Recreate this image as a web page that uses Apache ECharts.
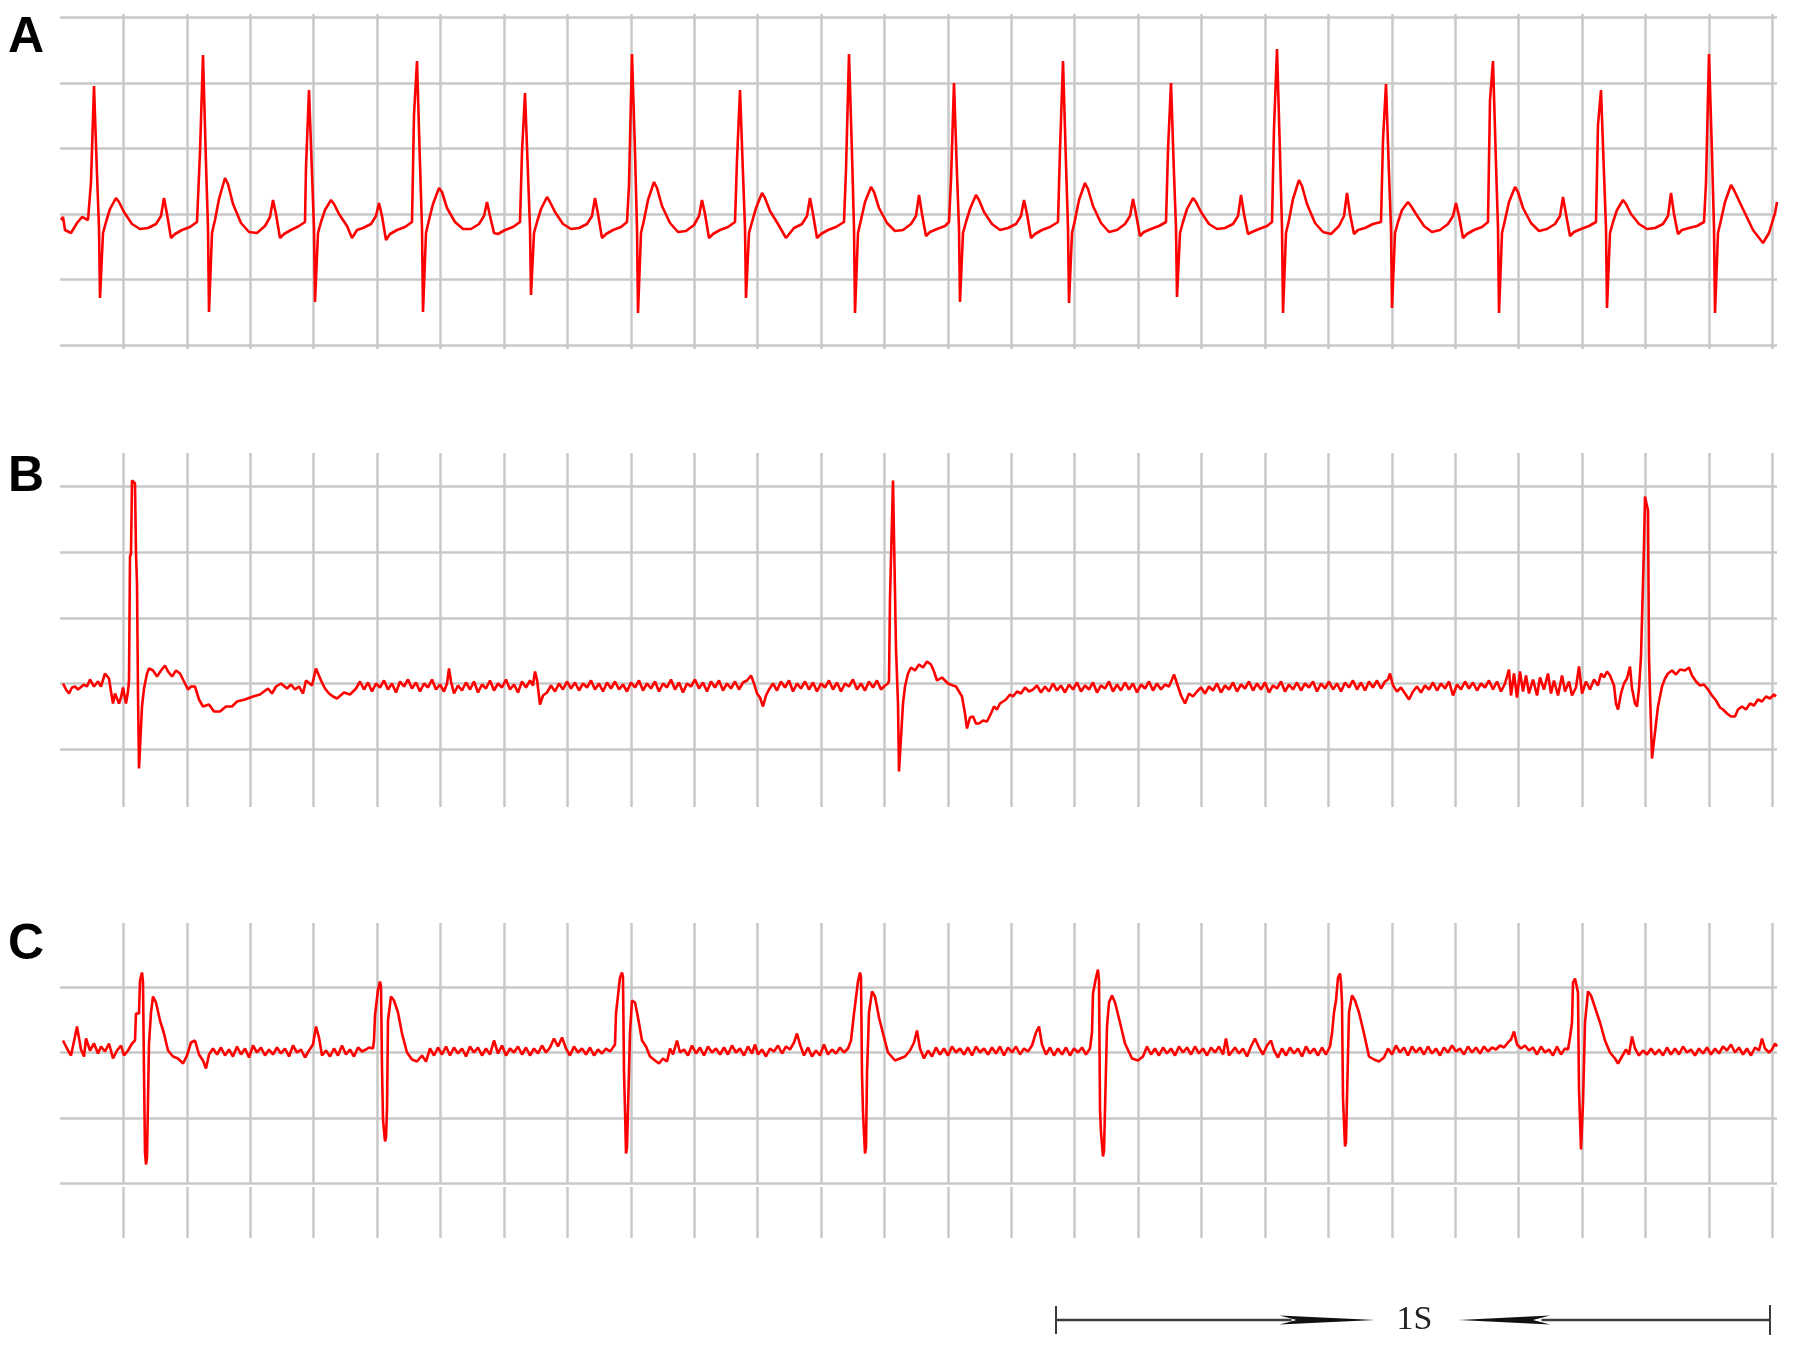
<!DOCTYPE html>
<html>
<head>
<meta charset="utf-8">
<title>ECG strips A / B / C</title>
<script src="https://cdn.jsdelivr.net/npm/echarts@6/dist/echarts.min.js"></script>
<style>
  html, body { margin: 0; padding: 0; background: #fff; }
  #chart { width: 1795px; height: 1356px; }
</style>
</head>
<body>
<div id="chart"></div>
<script>
// x = sample index along the strip, y = amplitude (counts, baseline = 0)
// values

const traceA = [
  [1,-6],[3,-3],[5,-16],[11,-19],[17,-9],[22,-3],[28,-6],
  [30,-6],[31,32],[33,32],[34,128],[36,128],[37,40],[39,-14],[40,-84],[42,-84],[43,-19],[46,-8],[50,5],[56,16],[59,12],[64,2],[72,-10],[80,-15],[88,-14],[96,-10],[101,-2],[104,16],[107,0],[111,-24],[115,-20],[122,-16],[130,-13],[137,-8],
  [139,-7],[140,62],[142,62],[143,159],[145,159],[146,50],[148,-14],[149,-98],[151,-98],[152,-19],[155,-6],[159,15],[165,36],[168,30],[173,10],[181,-9],[189,-18],[197,-19],[205,-12],[210,-3],[213,14],[216,0],[220,-24],[224,-20],[231,-16],[239,-12],[245,-8],
  [246,47],[248,47],[249,124],[251,124],[252,40],[254,-14],[255,-88],[257,-88],[258,-19],[261,-8],[265,4],[271,14],[274,10],[279,0],[287,-12],[292,-24],[297,-16],[303,-14],[311,-10],[316,-2],[319,11],[322,-2],[326,-26],[330,-20],[337,-16],[345,-13],[352,-8],
  [353,-8],[354,99],[356,99],[357,153],[359,153],[360,50],[362,-14],[363,-98],[365,-98],[366,-19],[369,-6],[373,10],[379,26],[382,22],[387,6],[395,-8],[403,-15],[411,-15],[419,-10],[424,-2],[427,12],[430,-2],[434,-19],[438,-20],[445,-16],[453,-13],[460,-8],
  [461,-8],[462,62],[464,62],[465,121],[467,121],[468,40],[470,-14],[471,-81],[473,-81],[474,-19],[477,-8],[481,5],[487,17],[490,12],[495,2],[503,-10],[511,-15],[519,-14],[527,-10],[532,-2],[535,16],[538,0],[542,-24],[546,-20],[553,-16],[561,-13],[567,-8],
  [568,-8],[569,29],[571,29],[572,160],[574,160],[575,62],[577,-14],[578,-99],[580,-99],[581,-19],[584,-6],[588,14],[594,32],[597,26],[602,8],[610,-9],[618,-18],[626,-17],[634,-11],[639,-2],[642,14],[645,0],[649,-24],[653,-20],[660,-16],[668,-13],[675,-8],
  [676,-8],[677,54],[679,54],[680,124],[682,124],[683,40],[685,-14],[686,-84],[688,-84],[689,-19],[692,-8],[696,6],[702,21],[705,16],[710,3],[718,-10],[726,-24],[734,-14],[742,-10],[747,-2],[750,16],[753,0],[757,-24],[761,-20],[768,-16],[776,-13],[784,-8],
  [785,-8],[786,44],[788,44],[789,160],[791,160],[792,60],[794,-14],[795,-99],[797,-99],[798,-19],[801,-6],[805,12],[811,27],[814,22],[819,6],[827,-9],[835,-17],[843,-16],[851,-10],[856,-2],[859,19],[862,0],[866,-22],[870,-18],[877,-15],[885,-12],[889,-8],
  [890,-8],[891,34],[893,34],[894,131],[896,131],[897,40],[899,-14],[900,-88],[902,-88],[903,-19],[906,-8],[910,5],[916,19],[919,14],[924,2],[932,-10],[940,-16],[948,-14],[956,-10],[961,-2],[964,14],[967,0],[971,-24],[975,-20],[982,-16],[990,-13],[998,-8],
  [999,-8],[1000,64],[1002,64],[1003,153],[1005,153],[1006,50],[1008,-14],[1009,-89],[1011,-89],[1012,-19],[1015,-6],[1019,14],[1025,31],[1028,25],[1033,8],[1041,-9],[1049,-18],[1057,-16],[1065,-10],[1070,-2],[1073,15],[1076,0],[1080,-22],[1084,-18],[1091,-15],[1099,-12],[1106,-8],
  [1107,-8],[1108,64],[1110,64],[1111,131],[1113,131],[1114,40],[1116,-14],[1117,-83],[1119,-83],[1120,-19],[1123,-8],[1127,5],[1133,16],[1136,12],[1141,2],[1149,-10],[1157,-15],[1165,-14],[1173,-10],[1178,-2],[1181,19],[1184,0],[1188,-20],[1192,-18],[1199,-15],[1207,-12],[1212,-8],
  [1213,-8],[1214,86],[1216,86],[1217,165],[1219,165],[1220,60],[1222,-14],[1223,-99],[1225,-99],[1226,-19],[1229,-6],[1233,15],[1239,34],[1242,28],[1247,10],[1255,-9],[1263,-18],[1271,-20],[1279,-12],[1284,-2],[1287,21],[1290,0],[1294,-20],[1298,-16],[1305,-14],[1313,-10],[1321,-8],
  [1322,-8],[1323,74],[1325,74],[1326,130],[1328,130],[1329,40],[1331,-14],[1332,-94],[1334,-94],[1335,-19],[1338,-8],[1342,4],[1348,12],[1351,8],[1356,0],[1364,-12],[1372,-18],[1380,-16],[1388,-10],[1393,-2],[1396,11],[1399,-2],[1403,-24],[1407,-20],[1414,-16],[1422,-13],[1428,-8],
  [1429,-8],[1430,114],[1432,114],[1433,153],[1435,153],[1436,50],[1438,-14],[1439,-99],[1441,-99],[1442,-19],[1445,-6],[1449,12],[1455,27],[1458,22],[1463,6],[1471,-9],[1479,-17],[1487,-15],[1495,-10],[1500,-2],[1503,17],[1506,0],[1510,-22],[1514,-18],[1521,-15],[1529,-12],[1536,-8],
  [1537,-8],[1538,89],[1540,89],[1541,124],[1543,124],[1544,40],[1546,-14],[1547,-94],[1549,-94],[1550,-19],[1553,-8],[1557,4],[1563,14],[1566,10],[1571,0],[1579,-10],[1587,-15],[1595,-14],[1603,-10],[1608,-2],[1611,21],[1614,0],[1618,-20],[1622,-16],[1629,-14],[1637,-12],[1644,-8],
  [1645,-8],[1646,31],[1648,31],[1649,160],[1651,160],[1652,60],[1654,-14],[1655,-99],[1657,-99],[1658,-19],[1661,-6],[1665,12],[1671,29],[1674,24],[1682,7],[1693,-16],[1703,-29],[1709,-19],[1715,1],[1717,12]
];

const traceB = [
  [3,0],[6,-6],[9,-10],[12,-4],[15,-3],[18,-6],[20,-5],[24,-1],[27,-3],[30,4],[34,-3],[38,2],[41,-3],[45,10],[49,5],[51,-8],[53,-20],[55,-10],[57,-10],[59,-20],[61,-14],[63,-4],[64,-5],[66,-20],[68,-8],
  [69,3],[70,127],[71,130],[72,203],[75,200],[76,130],[77,100],[78,-10],[79,-85],[81,-85],[82,-23],
  [84,-5],[85,0],[87,10],[89,15],[91,15],[93,13],[97,7],[101,13],[105,18],[108,12],[112,7],[116,13],[120,10],[124,2],[128,-6],[131,-3],[135,-3],[139,-16],[143,-23],[149,-21],[154,-28],[160,-28],[166,-23],[172,-23],[177,-18],[185,-16],[193,-13],[200,-11],[208,-5],[212,-10],[216,-3],[221,0],[227,-5],[231,-1],[235,-6],[239,-3],[243,-10],[246,3],[252,-2],[256,15],[258,13],[261,3],[265,-5],[269,-10],[273,-13],[277,-15],[284,-9],[290,-11],[296,-5],
  [300,2],[304,-6],[308,1],[312,-8],[316,0],[320,-4],[324,3],[328,-6],[332,0],[336,-9],[340,2],[344,-3],[348,4],[352,-5],[356,1],[360,-8],[364,0],[368,-4],[372,4],[376,-6],[380,-1],[384,-8],[387,0],[389,15],[391,2],[394,-10],[398,-2],[402,-7],[406,1],[410,-6],[414,2],[418,-9],[422,-1],[426,-5],[430,3],[434,-7],[438,0],[442,-4],[446,4],[450,-6],[454,-1],[458,-9],[462,2],[466,-4],[470,3],[473,-2],[475,12],[477,4],[480,-21],[483,-12],[487,-9],[491,-2],[495,-8],[499,0],
  [503,-6],[507,2],[511,-5],[515,1],[519,-7],[523,0],[527,-4],[531,3],[535,-6],[539,0],[543,-8],[547,1],[551,-5],[555,2],[559,-6],[563,-1],[567,-8],[571,1],[575,-4],[579,3],[583,-7],[587,0],[591,-5],[595,2],[599,-8],[603,0],[607,-4],[611,4],[615,-6],[619,1],[623,-9],[627,0],[631,-3],[635,4],[639,-5],[643,1],[647,-8],[651,2],[655,-4],[659,3],[663,-7],[667,0],[671,-5],[675,2],[679,-6],[683,1],[687,3],[691,8],[694,0],[697,-10],[700,-14],[703,-23],[706,-12],[709,-6],
  [713,0],[717,-7],[721,2],[725,-4],[729,3],[733,-8],[737,0],[741,-5],[745,2],[749,-6],[753,1],[757,-8],[761,0],[765,-4],[769,3],[773,-6],[777,1],[781,-8],[785,0],[789,-3],[793,4],[797,-6],[801,0],[805,-7],[809,2],[813,-4],[817,3],[821,-6],[825,-2],[828,0],
  [829,3],[830,85],[832,85],[833,203],[835,203],[836,35],[837,35],[838,-20],[839,-88],[841,-88],[843,-20],
  [845,-3],[848,10],[851,16],[855,13],[859,19],[863,16],[867,22],[871,19],[874,12],[877,3],[882,6],[888,0],[893,-2],[896,-3],[899,-8],[902,-13],[905,-30],[907,-45],[910,-34],[913,-33],[916,-40],[919,-40],[923,-37],[927,-38],[931,-30],[934,-23],[937,-26],[940,-20],[943,-18],[946,-16],[950,-11],[953,-13],[957,-8],[961,-10],[965,-4],[969,-8],[973,-6],
  [977,-2],[981,-9],[985,-3],[989,-8],[993,0],[997,-7],[1001,-2],[1005,-9],[1009,-1],[1013,-6],[1017,1],[1021,-8],[1025,-2],[1029,-6],[1033,1],[1037,-9],[1041,-2],[1045,-5],[1049,2],[1053,-8],[1057,-1],[1061,-7],[1065,1],[1069,-6],[1073,0],[1077,-9],[1081,-1],[1085,-5],[1089,2],[1093,-7],[1097,0],[1101,-6],[1105,-1],[1109,-3],[1112,4],[1114,9],[1117,0],[1121,-12],[1125,-20],[1129,-10],[1133,-13],[1137,-8],
  [1141,-4],[1145,-10],[1149,-3],[1153,-7],[1157,0],[1161,-9],[1165,-2],[1169,-6],[1173,1],[1177,-8],[1181,-1],[1185,-5],[1189,2],[1193,-7],[1197,0],[1201,-6],[1205,1],[1209,-9],[1213,-2],[1217,-5],[1221,2],[1225,-8],[1229,-1],[1233,-6],[1237,1],[1241,-7],[1245,0],[1249,-4],[1253,2],[1257,-8],[1261,0],[1265,-5],[1269,2],[1273,-6],[1277,0],[1281,-8],[1285,1],[1289,-4],[1293,3],[1297,-6],[1301,1],[1305,-7],[1309,2],[1313,-4],[1317,3],[1321,-5],[1325,2],[1328,4],[1330,10],[1333,-2],[1337,-8],
  [1341,-4],[1345,-10],[1349,-16],[1353,-8],[1357,-3],[1361,-9],[1365,-2],[1369,-6],[1373,1],[1377,-7],[1381,0],[1385,-5],[1389,2],[1393,-12],[1397,-1],[1401,-6],[1405,2],[1409,-5],[1413,1],[1417,-7],[1421,0],[1425,-4],[1429,3],[1433,-6],[1437,2],[1441,-8],[1445,0],
  [1449,14],[1451,-12],[1454,10],[1457,-14],[1460,12],[1463,-8],[1466,8],[1469,-10],[1473,4],[1477,-12],[1480,6],[1484,-6],[1488,10],[1491,-10],[1494,3],[1498,-12],[1502,8],[1505,-8],[1509,2],[1512,-12],[1516,-4],[1519,17],[1522,-10],[1526,2],[1530,-6],[1534,4],[1538,-2],[1541,10],[1544,6],[1547,12],[1550,8],[1552,10],[1554,-2],[1556,-20],[1558,-26],[1561,-10],[1564,0],[1567,5],[1570,17],[1572,-5],[1575,-20],[1577,-23],[1579,-5],
  [1581,27],[1583,27],[1584,138],[1585,187],[1587,187],[1588,173],[1589,27],[1590,-10],[1592,-75],[1594,-75],[1596,-40],[1598,-23],
  [1602,-3],[1605,5],[1608,10],[1612,13],[1616,9],[1620,14],[1625,13],[1629,16],[1632,8],[1636,2],[1640,-2],[1644,-1],[1648,-6],[1652,-12],[1656,-17],[1660,-24],[1663,-26],[1667,-30],[1671,-33],[1675,-33],[1678,-26],[1682,-23],[1686,-26],[1690,-20],[1694,-22],[1698,-16],[1702,-18],[1706,-13],[1710,-15],[1714,-11],[1716,-13]
];

const traceC = [
  [3,12],[7,4],[11,-3],[15,16],[17,26],[19,24],[21,3],[24,-4],[26,14],[30,2],[34,9],[38,-1],[41,6],[45,1],[49,9],[53,-6],[57,2],[61,7],[64,-3],[68,2],[72,9],[75,12],
  [76,39],[79,39],[80,72],[82,80],[83,70],[84,-20],[85,-100],[86,-112],[87,-105],[89,9],[91,40],[93,56],[96,50],[100,32],[104,19],[108,2],[113,-4],[118,-6],[123,-11],[127,-3],[131,10],[135,12],[139,-2],[143,-8],[146,-16],[149,-2],
  [153,4],[157,-2],[161,5],[165,-3],[169,3],[173,-4],[177,6],[181,-2],[185,4],[189,-5],[193,7],[197,0],[201,5],[205,-3],[209,3],[213,-2],[217,5],[221,-1],[225,4],[229,-4],[233,7],[237,0],[241,3],[245,-5],[249,2],[253,8],[256,26],[259,15],[262,-3],[266,2],[270,-4],[274,4],[278,-3],[282,7],[286,-2],[290,3],[294,-4],[298,5],[302,1],[306,3],[309,5],
  [313,4],[314,12],[315,37],[317,37],[318,63],[320,71],[321,66],[322,-15],[323,-67],[325,-89],[326,-85],[327,-57],[328,32],[331,56],[334,52],[338,40],[342,19],[347,0],[352,-7],[357,-9],[362,-3],[366,-9],
  [370,4],[374,-3],[378,5],[382,-2],[386,6],[390,-3],[394,5],[398,-1],[402,4],[406,-4],[410,6],[414,0],[418,5],[422,-3],[426,4],[430,-2],[434,12],[438,-1],[442,7],[446,-3],[450,4],[454,0],[458,6],[462,-2],[466,5],[470,-3],[474,4],[478,-1],[482,7],[486,0],[490,5],[494,14],[498,6],[502,15],[506,4],[510,-3],[514,6],[518,0],[522,4],[526,-2],[530,5],[534,-3],[538,3],[542,-1],[546,4],[550,1],[553,5],
  [555,8],[556,39],[558,39],[560,75],[562,80],[563,75],[564,-20],[565,-57],[566,-101],[567,-95],[568,-57],[570,20],[572,52],[575,50],[578,35],[582,12],[586,6],[590,-4],[595,-8],[599,-11],[603,-6],[607,-9],[610,4],[613,-2],[617,12],[620,0],
  [624,3],[628,-3],[632,7],[636,-1],[640,5],[644,-3],[648,6],[652,0],[656,4],[660,-2],[664,5],[668,-2],[672,7],[676,0],[680,4],[684,-3],[688,6],[692,-1],[695,8],[698,-2],[702,3],[706,-4],[710,4],[714,1],[718,7],[722,-1],[726,6],[730,3],[734,10],[737,19],[740,8],[744,-3],[748,5],[752,-4],[756,2],[760,-3],[764,8],[768,-2],[772,3],[776,-1],[780,5],[784,0],[788,4],[791,12],
  [793,12],[794,39],[796,39],[798,71],[800,80],[801,75],[802,-21],[803,-60],[805,-101],[806,-95],[807,-21],[809,40],[812,61],[815,56],[819,35],[823,19],[828,0],[835,-8],[840,-6],[845,-4],[850,2],[854,10],[857,22],[860,4],[864,-6],
  [868,2],[872,-4],[876,5],[880,-2],[884,4],[888,-3],[892,6],[896,0],[900,4],[904,-2],[908,5],[912,-3],[916,6],[920,0],[924,4],[928,-2],[932,5],[936,-1],[940,6],[944,-3],[948,5],[952,0],[956,6],[960,-2],[964,4],[968,1],[972,7],[976,20],[979,26],[982,8],[986,-2],[990,5],[994,-3],[998,4],[1002,-2],[1006,5],[1010,-3],[1014,4],[1018,0],[1022,5],[1026,-2],[1030,4],
  [1031,6],[1032,20],[1033,59],[1035,59],[1036,75],[1038,83],[1039,72],[1040,-57],[1041,-80],[1043,-104],[1044,-98],[1045,-57],[1047,26],[1049,50],[1052,57],[1055,50],[1060,30],[1065,9],[1072,-6],[1078,-8],[1083,-4],
  [1087,6],[1091,-2],[1095,4],[1099,-3],[1103,5],[1107,-1],[1111,4],[1115,-3],[1119,6],[1123,0],[1127,5],[1131,-2],[1135,6],[1139,-1],[1143,4],[1147,-3],[1151,5],[1155,0],[1159,6],[1163,-2],[1166,14],[1169,-3],[1175,5],[1179,-1],[1183,4],[1187,-4],[1191,6],[1195,14],[1199,5],[1203,-2],[1207,7],[1211,12],[1214,2],[1218,-5],[1222,4],[1226,-3],[1230,5],[1234,-1],[1238,4],[1242,-4],[1246,6],[1250,-1],[1254,4],[1258,-3],[1262,5],[1266,-2],[1270,6],[1272,19],
  [1274,40],[1276,52],[1278,75],[1280,79],[1281,70],[1282,50],[1283,-46],[1285,-94],[1286,-90],[1287,-45],[1289,40],[1292,57],[1295,52],[1299,40],[1304,19],[1309,-4],[1314,-7],[1319,-9],[1324,-5],
  [1328,4],[1332,-2],[1336,7],[1340,0],[1344,5],[1348,-3],[1352,6],[1356,0],[1360,5],[1364,-2],[1368,6],[1372,-1],[1376,4],[1380,-3],[1384,5],[1388,0],[1392,7],[1396,1],[1400,4],[1404,-2],[1408,6],[1412,0],[1416,5],[1420,-1],[1424,6],[1428,1],[1432,5],[1436,3],[1440,7],[1444,5],[1448,10],[1451,13],[1454,21],[1457,8],[1461,4],[1465,7],[1469,2],[1473,5],[1477,-2],[1481,6],[1485,0],[1489,3],[1493,-3],[1497,6],[1501,-2],[1505,4],[1508,3],[1510,15],
  [1512,30],[1513,70],[1515,74],[1517,74],[1518,60],[1519,-36],[1521,-97],[1522,-97],[1523,-50],[1525,30],[1528,61],[1531,57],[1535,45],[1540,30],[1545,12],[1550,0],[1555,-6],[1558,-11],[1562,-4],
  [1566,3],[1569,-2],[1572,16],[1575,4],[1579,-3],[1583,2],[1587,-2],[1591,4],[1595,-2],[1599,3],[1603,-3],[1607,5],[1611,-2],[1615,4],[1619,-2],[1623,6],[1627,0],[1631,3],[1635,-3],[1639,4],[1643,-1],[1647,5],[1651,-2],[1655,4],[1659,-1],[1663,6],[1667,2],[1671,8],[1675,0],[1679,5],[1683,-2],[1687,4],[1691,-3],[1695,5],[1699,2],[1702,14],[1705,4],[1709,0],[1712,3],[1715,9],[1717,6]
];

const panelLabels = ['A', 'B', 'C'];
const scaleBarSeconds = [0, 1];
const scaleBarLabel = '1S';

// ---- layout ----
const DIV_X = 63.42;  // samples per major time division
const DIV_Y = 65.6;   // counts per major amplitude division
const STRIP_LEN = 1717;

const gridLine = { color: '#c8c8c8', width: 2.5 };

// vertical-line areas carry the traces, horizontal-line areas only draw the rows
const areas = [
  { top: 14,     height: 335,   yMin: -135,   yMax: 200,   v: true,  h: false }, // A verticals
  { top: 17.2,   height: 328,   yMin: -131.2, yMax: 196.8, v: false, h: true  }, // A rows
  { top: 453,    height: 354,   yMin: -123.5, yMax: 230.5, v: true,  h: false }, // B verticals
  { top: 486.7,  height: 262.4, yMin: -65.6,  yMax: 196.8, v: false, h: true  }, // B rows
  { top: 923,    height: 261,   yMin: -131.5, yMax: 129.5, v: true,  h: false }, // C verticals
  { top: 986.9,  height: 196.8, yMin: -131.2, yMax: 65.6,  v: false, h: true  }, // C rows
  { top: 1187,   height: 51,    yMin: 0,      yMax: 1,     v: true,  h: false }  // C stubs below
];

const grids = areas.map(a => ({ left: 60, width: STRIP_LEN, top: a.top, height: a.height }));
grids.push({ left: 1056, width: 714, top: 1300, height: 40 }); // 1 s scale bar

const hidden = { axisLine: { show: false }, axisTick: { show: false }, axisLabel: { show: false } };

const xAxes = areas.map((a, i) => Object.assign({
  gridIndex: i, type: 'value', min: 0, max: STRIP_LEN, interval: DIV_X,
  splitLine: { show: a.v, showMinLine: false, showMaxLine: false, lineStyle: gridLine }
}, hidden));
xAxes.push(Object.assign({ gridIndex: 7, type: 'value', min: 0, max: 1, splitLine: { show: false } }, hidden));

const yAxes = areas.map((a, i) => {
  const ax = Object.assign({
    gridIndex: i, type: 'value', min: a.yMin, max: a.yMax,
    splitLine: { show: a.h, lineStyle: gridLine }
  }, hidden);
  if (a.h) ax.interval = DIV_Y;
  return ax;
});
yAxes.push(Object.assign({ gridIndex: 7, type: 'value', min: -20, max: 20, splitLine: { show: false } }, hidden));

function trace(data, axisIndex) {
  return {
    type: 'line', xAxisIndex: axisIndex, yAxisIndex: axisIndex, data: data,
    symbol: 'none', silent: true, z: 3,
    lineStyle: { color: '#ff0000', width: 2.6 }
  };
}

function renderScaleBar(params, api) {
  const t0 = api.value(0), t1 = api.value(1);
  const at = (f, d) => api.coord([t0 + f * (t1 - t0), d]);
  const ink = '#3c3c3c';
  const seg = (p, q, w) => ({
    type: 'line', shape: { x1: p[0], y1: p[1], x2: q[0], y2: q[1] },
    style: { stroke: ink, lineWidth: w }
  });
  const dart = (tip, back, notch) => ({
    type: 'polygon',
    shape: { points: [at(tip, 0), at(back, 4.5), at(notch, 0), at(back, -4.5)] },
    style: { fill: '#111' }
  });
  const mid = at(0.502, 0);
  return {
    type: 'group',
    children: [
      seg(at(0, -14), at(0, 14), 2),
      seg(at(1, -15), at(1, 15), 2),
      seg(at(0, 0), at(0.33, 0), 2.5),
      dart(0.447, 0.313, 0.337),
      dart(0.564, 0.692, 0.668),
      seg(at(0.68, 0), at(1, 0), 2.5),
      {
        type: 'text', x: mid[0], y: mid[1],
        style: { text: scaleBarLabel, font: '34px "Liberation Serif"', fill: '#222', align: 'center', verticalAlign: 'middle' }
      }
    ]
  };
}

const labelTops = [13, 452, 920];

const myChart = echarts.init(document.getElementById('chart'));
const option = {
  backgroundColor: '#ffffff',
  animation: false,
  title: panelLabels.map((t, i) => ({
    text: t, left: 8, top: labelTops[i], padding: 0,
    textStyle: { fontFamily: 'Liberation Sans', fontWeight: 'bold', fontSize: 50, color: '#000' }
  })),
  grid: grids,
  xAxis: xAxes,
  yAxis: yAxes,
  series: [
    trace(traceA, 0),
    trace(traceB, 2),
    trace(traceC, 4),
    {
      type: 'custom', xAxisIndex: 7, yAxisIndex: 7, silent: true,
      data: [scaleBarSeconds],
      renderItem: renderScaleBar
    }
  ]
};
myChart.setOption(option);
</script>
</body>
</html>
